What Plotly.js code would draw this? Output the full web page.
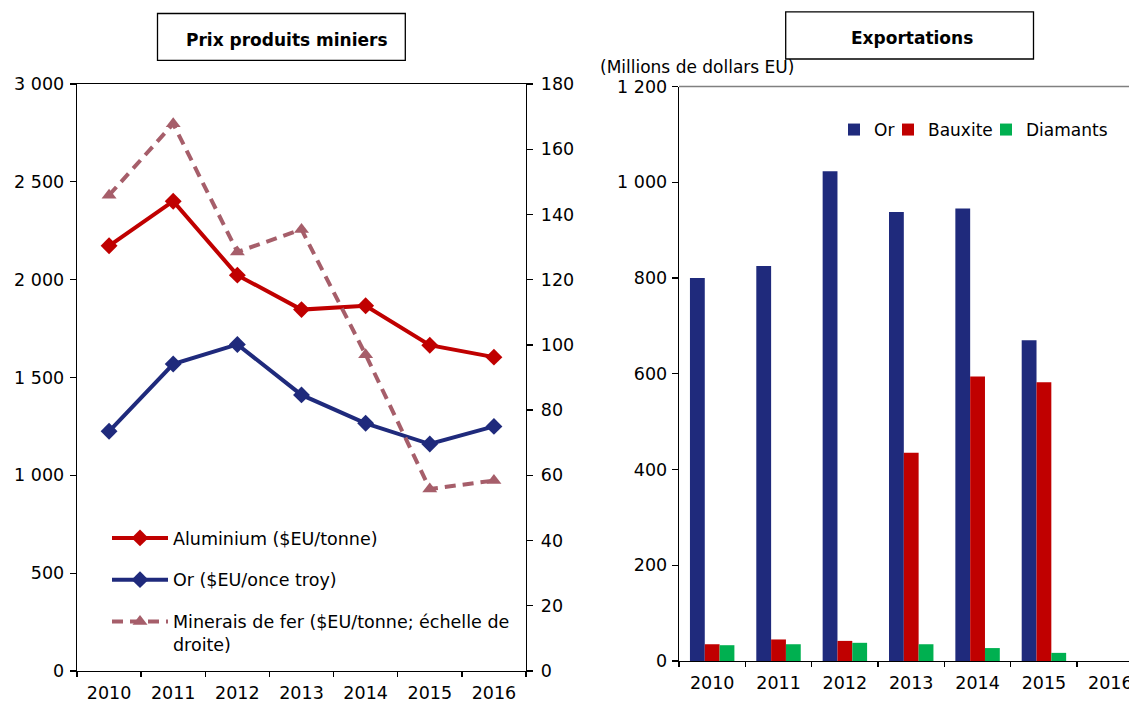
<!DOCTYPE html>
<html>
<head>
<meta charset="utf-8">
<script src="https://cdn.plot.ly/plotly-3.0.1.min.js"></script>
<style>
  html, body { margin: 0; padding: 0; background: #fff; }
  #chart { width: 1129px; height: 702px; }
</style>
</head>
<body>
<div id="chart"></div>
<script>
// Mining product prices (left panel)
const priceYears = ['2010', '2011', '2012', '2013', '2014', '2015', '2016'];
const aluminium = [2173, 2401, 2023, 1847, 1867, 1665, 1604];   // $EU/tonne
const gold = [1225, 1569, 1669, 1411, 1266, 1160, 1250];        // $EU/once troy
const ironOre = [145.9, 167.8, 128.5, 135.4, 97.0, 55.8, 58.4]; // $EU/tonne, right scale

// Exports in millions of US dollars (right panel)
const exportYears = ['2010', '2011', '2012', '2013', '2014', '2015'];
const exportCategories = ['2010', '2011', '2012', '2013', '2014', '2015', '2016'];
const orExports = [800, 825, 1023, 938, 945, 670];
const bauxiteExports = [35, 45, 42, 435, 594, 582];
const diamantsExports = [33, 35, 38, 35, 27, 17];

const W = 1129, H = 702;
const px = v => v / W;
const py = v => 1 - v / H;

const FONT = 'DejaVu Sans, Verdana, sans-serif';
const tickFont = { family: FONT, size: 17.5, color: '#000' };

const traces = [
  {
    name: 'Aluminium ($EU/tonne)', x: priceYears, y: aluminium,
    xaxis: 'x', yaxis: 'y', type: 'scatter', mode: 'lines+markers',
    line: { color: '#C00000', width: 4 },
    marker: { symbol: 'diamond', size: 13, color: '#C00000' },
    legend: 'legend', legendgroup: 'a'
  },
  {
    name: 'Or ($EU/once troy)', x: priceYears, y: gold,
    xaxis: 'x', yaxis: 'y', type: 'scatter', mode: 'lines+markers',
    line: { color: '#1F2A7C', width: 4 },
    marker: { symbol: 'diamond', size: 13, color: '#1F2A7C' },
    legend: 'legend', legendgroup: 'b'
  },
  {
    name: 'Minerais de fer ($EU/tonne; échelle de<br>droite)', x: priceYears, y: ironOre,
    xaxis: 'x', yaxis: 'y2', type: 'scatter', mode: 'lines+markers',
    line: { color: '#A65E6A', width: 4, dash: '11px,7px' },
    marker: { symbol: 'triangle-up', size: 13, color: '#A65E6A' },
    legend: 'legend', legendgroup: 'c'
  },
  {
    name: 'Or', x: exportYears, y: orExports, type: 'bar',
    xaxis: 'x2', yaxis: 'y3', marker: { color: '#1F2A7C' }, legend: 'legend2'
  },
  {
    name: 'Bauxite', x: exportYears, y: bauxiteExports, type: 'bar',
    xaxis: 'x2', yaxis: 'y3', marker: { color: '#C00000' }, legend: 'legend3'
  },
  {
    name: 'Diamants', x: exportYears, y: diamantsExports, type: 'bar',
    xaxis: 'x2', yaxis: 'y3', marker: { color: '#00B050' }, legend: 'legend4'
  }
];

const axisCommon = {
  showline: true, linecolor: '#000', linewidth: 1.3,
  ticks: 'outside', tickcolor: '#000', tickwidth: 1.3,
  showgrid: false, zeroline: false, tickfont: tickFont, fixedrange: true
};

// one small legend per bar series, laid out in a row above the bars
const barLegend = left => ({
  orientation: 'h', x: px(left), y: py(130), xanchor: 'left', yanchor: 'middle',
  bgcolor: 'rgba(0,0,0,0)', font: { family: FONT, size: 17, color: '#000' }
});

const layout = {
  width: W, height: H,
  margin: { l: 0, r: 0, t: 0, b: 0 },
  paper_bgcolor: '#fff', plot_bgcolor: 'rgba(0,0,0,0)',
  separators: ', ',
  font: { family: FONT, size: 17, color: '#000' },
  barmode: 'group', bargap: 0.33, bargroupgap: 0,
  xaxis: Object.assign({}, axisCommon, {
    domain: [px(77), px(526)], anchor: 'y', type: 'category',
    categoryorder: 'array', categoryarray: priceYears,
    range: [-0.5, 6.5], tickson: 'boundaries', ticklen: 5, mirror: true,
    ticklabelstandoff: 6
  }),
  yaxis: Object.assign({}, axisCommon, {
    domain: [py(671), py(84)], anchor: 'x',
    range: [0, 3000], dtick: 500, tick0: 0, ticklen: 6, separatethousands: true,
    ticklabelstandoff: 2
  }),
  yaxis2: Object.assign({}, axisCommon, {
    overlaying: 'y', side: 'right', anchor: 'x',
    range: [0, 180], dtick: 20, tick0: 0, ticklen: 6, ticklabelstandoff: 4
  }),
  xaxis2: Object.assign({}, axisCommon, {
    domain: [px(679), 1], anchor: 'y3', type: 'category',
    categoryorder: 'array', categoryarray: exportCategories,
    range: [-0.5, -0.5 + (W - 679) / 66.35], tickson: 'boundaries', ticklen: 5,
    ticklabelstandoff: 6
  }),
  yaxis3: Object.assign({}, axisCommon, {
    domain: [py(661), py(86.5)], anchor: 'x2',
    range: [0, 1200], dtick: 200, tick0: 0, ticklen: 6, separatethousands: true,
    ticklabelstandoff: 1
  }),
  legend: {
    x: px(107), y: py(520), xanchor: 'left', yanchor: 'top',
    bgcolor: 'rgba(0,0,0,0)', font: { family: FONT, size: 17.5, color: '#000' },
    tracegroupgap: 16, valign: 'top', itemwidth: 56
  },
  legend2: barLegend(834),
  legend3: barLegend(888),
  legend4: barLegend(986),
  shapes: [
    // top frame of the exports panel
    { type: 'line', xref: 'x2 domain', yref: 'y3 domain', x0: 0, x1: 1, y0: 1, y1: 1,
      line: { color: '#808080', width: 1.3 } },
    // boxes around the two panel titles
    { type: 'rect', xref: 'paper', yref: 'paper',
      x0: px(157.5), x1: px(405.3), y0: py(60.3), y1: py(13.5),
      line: { color: '#000', width: 1.3 } },
    { type: 'rect', xref: 'paper', yref: 'paper',
      x0: px(785.7), x1: px(1033.5), y0: py(59), y1: py(11.8),
      line: { color: '#000', width: 1.3 } }
  ],
  annotations: [
    { text: '<b>Prix produits miniers</b>', xref: 'paper', yref: 'paper',
      x: px(286.5), y: py(40), xanchor: 'center', yanchor: 'middle',
      font: { family: FONT, size: 17, color: '#000' }, showarrow: false },
    { text: '<b>Exportations</b>', xref: 'paper', yref: 'paper',
      x: px(911.5), y: py(38.3), xanchor: 'center', yanchor: 'middle',
      font: { family: FONT, size: 17, color: '#000' }, showarrow: false },
    { text: '(Millions de dollars EU)', xref: 'paper', yref: 'paper',
      x: px(598), y: py(67), xanchor: 'left', yanchor: 'middle',
      font: { family: FONT, size: 17, color: '#000' }, showarrow: false }
  ]
};

Plotly.newPlot('chart', traces, layout, { staticPlot: true, displayModeBar: false });
</script>
</body>
</html>
